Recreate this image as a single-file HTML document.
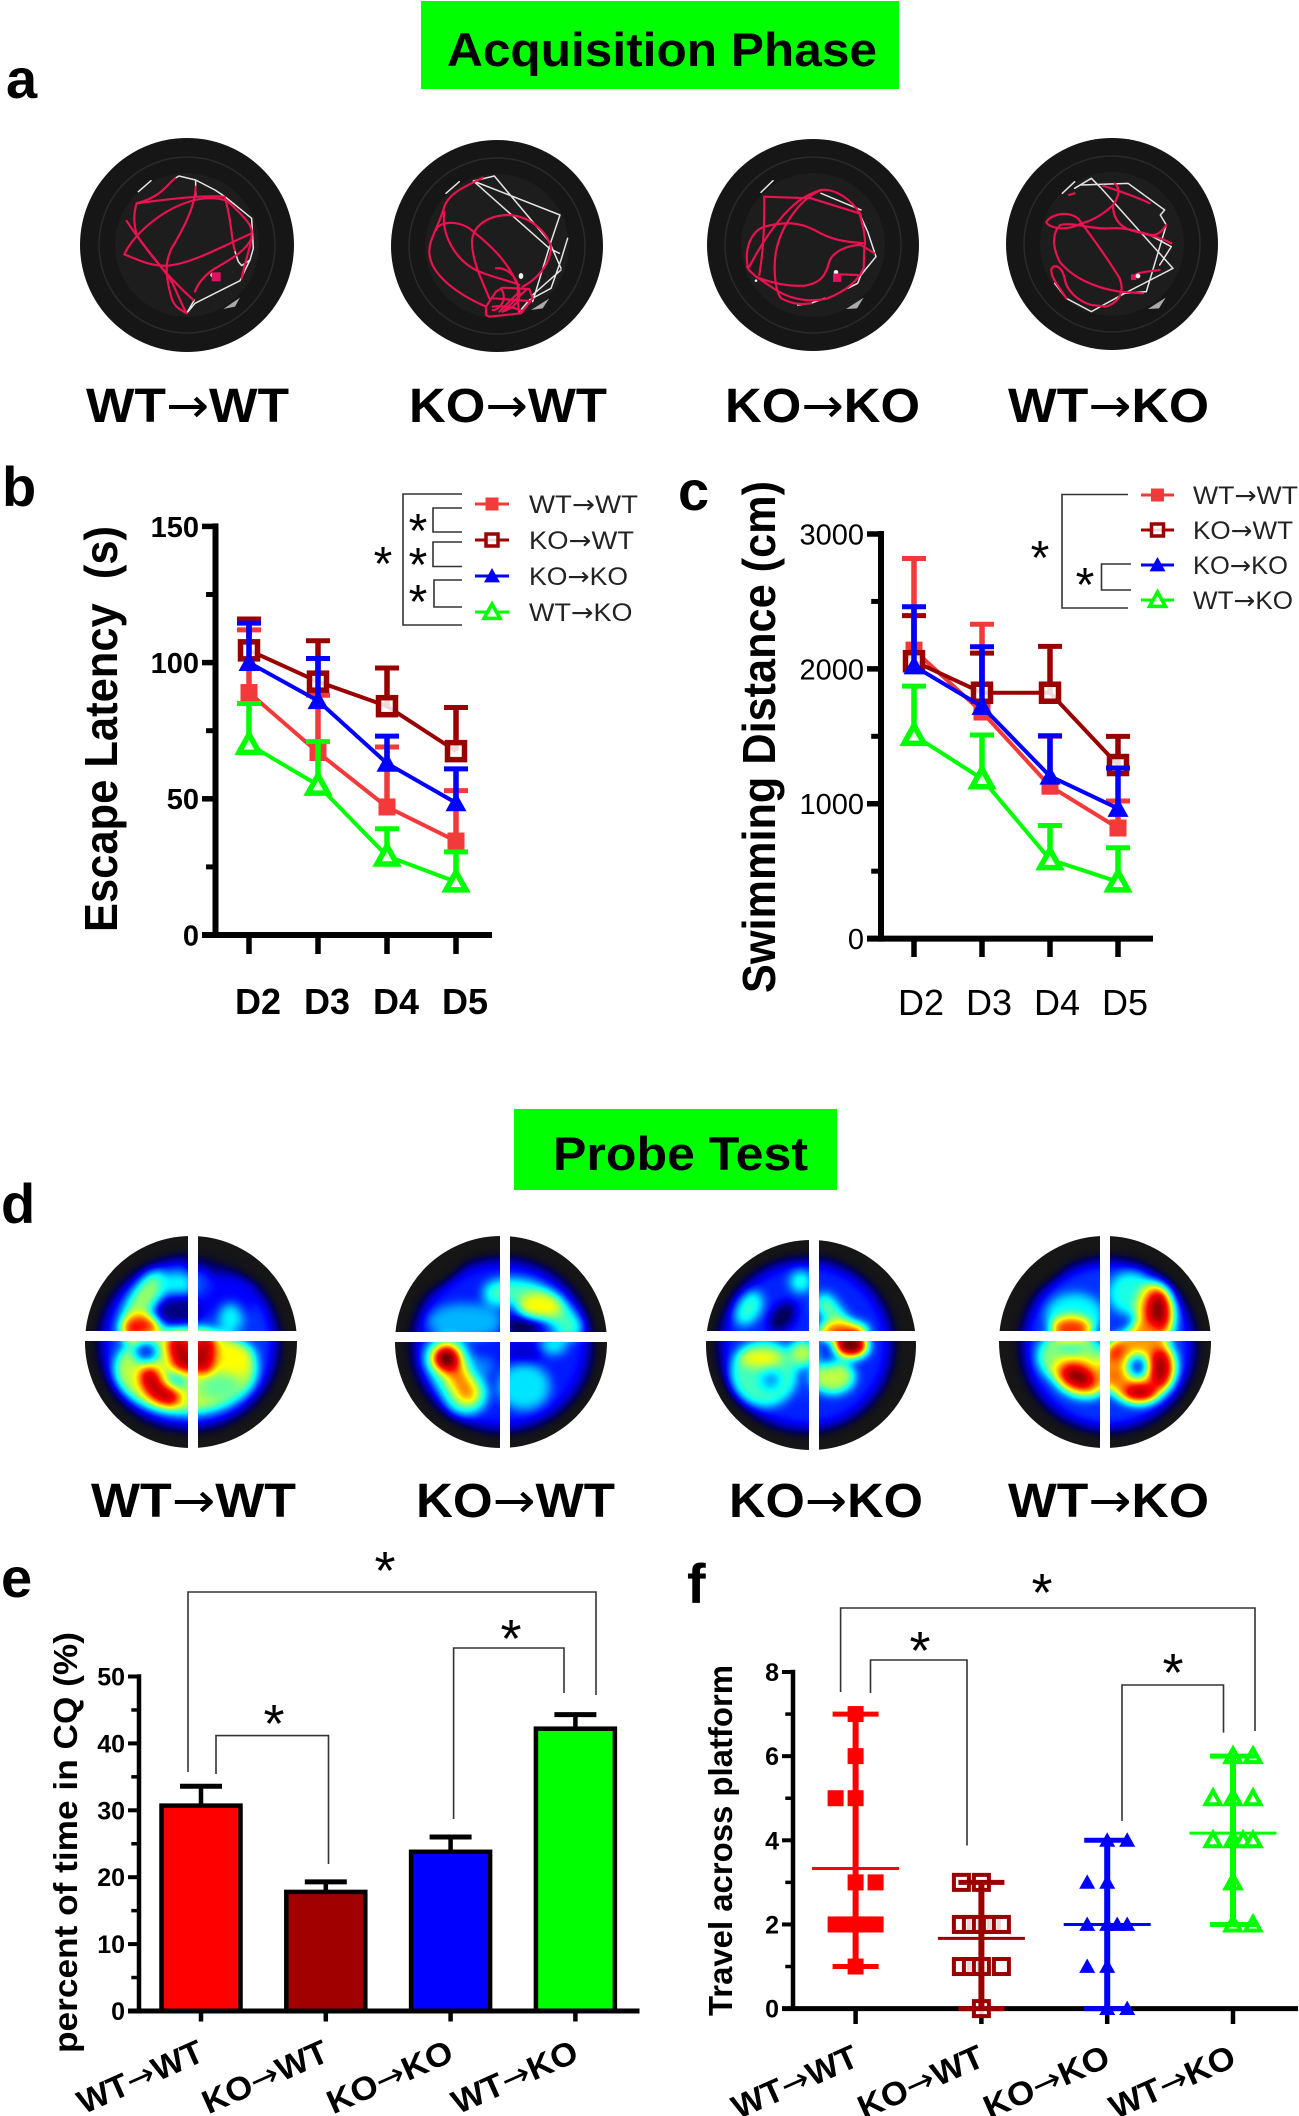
<!DOCTYPE html>
<html lang="en">
<head>
<meta charset="utf-8">
<title>Acquisition Phase and Probe Test</title>
<style>
html,body{margin:0;padding:0;background:#fff}
svg{display:block}
text{font-family:"Liberation Sans",Arial,sans-serif;fill:#000}
.br{fill:none;stroke:#333;stroke-width:1.6}
.ast{font-size:48px;text-anchor:middle}
.ast2{font-size:54px;text-anchor:middle}
.pl{font-size:56px;font-weight:bold}
.gl{font-size:48px;font-weight:bold}
.ar{font-weight:normal;font-family:"DejaVu Sans",sans-serif}
.wh{fill:none;stroke:#e4e4e4;stroke-width:4.5;stroke-linejoin:round;stroke-linecap:round}
.rd{fill:none;stroke:#ea1250;stroke-width:6.5;stroke-linejoin:round;stroke-linecap:round}
</style>
</head>
<body>
<svg xmlns="http://www.w3.org/2000/svg" width="1299" height="2116" viewBox="0 0 1299 2116">
<defs>
<filter id="jet" x="0" y="0" width="1" height="1" color-interpolation-filters="sRGB">
<feGaussianBlur stdDeviation="16"/>
<feComponentTransfer>
<feFuncR type="table" tableValues=".09 .06 0 0 0 0 0 0 0 .25 .5 .75 1 1 1 1 1 .88 .69 .5 .38"/>
<feFuncG type="table" tableValues=".09 .06 0 0 0 .25 .5 .75 1 1 1 1 1 .75 .5 .25 0 0 0 0 0"/>
<feFuncB type="table" tableValues=".09 .13 .38 .69 1 1 1 1 1 .75 .5 .25 0 0 0 0 0 0 0 0 0"/>
</feComponentTransfer>
</filter>
<clipPath id="h1c"><circle cx="191" cy="1342" r="106"/></clipPath>
<clipPath id="h2c"><circle cx="501" cy="1342" r="106"/></clipPath>
<clipPath id="h3c"><rect x="695" y="1240" width="240" height="220"/></clipPath>
<clipPath id="h3d"><circle cx="811" cy="1345" r="105"/></clipPath>
<clipPath id="h4c"><circle cx="1105" cy="1342" r="106"/></clipPath>
</defs>
<rect x="0" y="0" width="1299" height="2116" fill="#fff"/>

<!-- titles -->
<rect x="421" y="1" width="478" height="88" fill="#00ff00"/>
<text x="447" y="66" font-size="47" font-weight="bold" textLength="430" lengthAdjust="spacingAndGlyphs">Acquisition Phase</text>
<rect x="514" y="1109" width="323" height="81" fill="#00ff00"/>
<text x="553" y="1170" font-size="47" font-weight="bold" textLength="255" lengthAdjust="spacingAndGlyphs">Probe Test</text>

<!-- panel letters -->
<text class="pl" x="6" y="98">a</text>
<text class="pl" x="2" y="506">b</text>
<text class="pl" x="678" y="510">c</text>
<text class="pl" x="1" y="1223">d</text>
<text class="pl" x="1" y="1597">e</text>
<text class="pl" x="687" y="1603">f</text>

<!-- panel a : swim paths -->
<g>
<circle cx="187" cy="245" r="107" fill="#161616"/><circle cx="187" cy="245" r="88" fill="none" stroke="#2a2a2a" stroke-width="1.5"/><circle cx="187" cy="245" r="72" fill="#1d1d1d"/>
<g transform="translate(75,135) scale(.3333)">
<path d="M190,170L228,137" class="wh" stroke-width="5"/><path d="M445,522L495,488L480,515Z" fill="#aaa"/>
<path class="wh" d="M300,130L312,123L362,135L420,165L450,185L530,250L535,340L525,375L495,437L360,505L335,535L358,495M362,135L362,180M480,350L490,380L500,392L525,375"/>
<circle cx="413" cy="420" r="7" fill="#eee"/>
<path class="rd" d="M300,130C275,150 260,185 185,205C176,235 175,260 185,300C215,345 265,400 290,440C310,480 320,510 335,535"/>
<path class="rd" d="M155,258C190,310 250,400 355,495"/>
<path class="rd" d="M185,205C260,195 370,180 450,185"/>
<path class="rd" d="M148,358C175,300 260,220 360,195C400,185 440,190 460,200C500,240 535,270 530,295C530,330 520,340 500,430"/>
<path class="rd" d="M148,358C190,375 230,395 280,392C350,385 430,340 530,295"/>
<path class="rd" d="M362,155C360,220 320,290 290,340C270,380 270,420 290,490C300,520 320,525 335,535"/>
<path class="rd" d="M450,190C470,250 470,330 480,345"/>
<path class="rd" d="M360,470C370,440 400,410 430,395C470,370 510,350 530,310"/>
<rect x="410" y="412" width="27" height="27" fill="#e0115f"/>
</g></g>
<g>
<circle cx="497" cy="246" r="106" fill="#161616"/><circle cx="497" cy="246" r="88" fill="none" stroke="#2a2a2a" stroke-width="1.5"/><circle cx="497" cy="246" r="72" fill="#1d1d1d"/>
<g transform="translate(386,135) scale(.3333)">
<path d="M180,175L220,140" class="wh" stroke-width="5"/><path d="M435,525L490,490L470,520Z" fill="#aaa"/>
<path class="wh" d="M262,138L325,123L490,320L525,400M262,138L522,240L495,320L440,500M262,138L490,340L520,355M545,310L525,375L495,460L430,495L400,530M525,405L440,480"/>
<ellipse cx="405" cy="423" rx="7" ry="9" fill="#eee"/>
<path class="rd" d="M290,128C250,150 190,170 175,215C160,270 130,310 130,350C130,420 220,480 300,515"/>
<path class="rd" d="M150,285C160,260 210,255 250,280C300,320 360,370 390,440"/>
<path class="rd" d="M175,230C165,300 210,380 280,410C330,430 380,440 400,450"/>
<path class="rd" d="M258,320C260,270 310,240 370,240C440,245 490,300 495,340C490,400 440,440 410,455"/>
<path class="rd" d="M258,320C258,380 290,440 310,490"/>
<path class="rd" d="M330,400C355,395 395,420 400,470C405,500 380,520 350,530"/>
<path class="rd" d="M300,540L300,515L330,470L350,458L430,462L440,490L405,535L310,545Z"/>
<path class="rd" d="M320,490L430,498M320,515C350,510 400,520 410,530M345,460C370,500 330,530 320,525M395,450L398,530M340,530L400,470M420,465L350,530"/>
</g></g>
<g>
<circle cx="813" cy="245" r="106" fill="#161616"/><circle cx="813" cy="245" r="88" fill="none" stroke="#2a2a2a" stroke-width="1.5"/><circle cx="813" cy="245" r="72" fill="#1d1d1d"/>
<g transform="translate(701,135) scale(.3333)">
<path d="M180,172L216,137" class="wh" stroke-width="5"/><path d="M435,522L488,488L468,520Z" fill="#aaa"/>
<path class="wh" d="M475,235L500,290L520,350L525,365L480,420L470,445L440,460M370,490L330,505L290,510M360,175L480,225"/>
<circle cx="140" cy="395" r="4" fill="#eee"/><circle cx="165" cy="437" r="4" fill="#eee"/><circle cx="405" cy="412" r="7" fill="#eee"/>
<path class="rd" d="M190,185L330,190L475,235C490,280 495,320 490,340L488,400C470,440 430,470 380,490C340,500 280,500 225,465L165,425C150,410 140,405 140,395"/>
<path class="rd" d="M190,185C190,250 190,330 175,420"/>
<path class="rd" d="M360,165C400,160 450,190 480,240"/>
<path class="rd" d="M360,165C300,190 240,270 225,350C215,410 225,470 240,490C270,505 290,510 330,505"/>
<path class="rd" d="M140,395C130,340 150,290 190,275C250,260 290,260 340,285C390,315 430,320 490,325"/>
<path class="rd" d="M145,395C190,310 240,240 290,200C310,185 340,170 360,165"/>
<path class="rd" d="M165,425C210,445 270,455 310,452C360,445 375,420 385,380C395,350 440,330 480,330L520,355"/>
<path class="rd" d="M412,418L470,420"/>
<rect x="396" y="416" width="25" height="25" fill="#e0115f"/>
</g></g>
<g>
<circle cx="1112" cy="244" r="106" fill="#161616"/><circle cx="1112" cy="244" r="88" fill="none" stroke="#2a2a2a" stroke-width="1.5"/><circle cx="1112" cy="244" r="72" fill="#1d1d1d"/>
<g transform="translate(1003,135) scale(.3333)">
<path d="M178,175L215,140" class="wh" stroke-width="5"/><path d="M435,522L488,488L468,520Z" fill="#aaa"/>
<path class="wh" d="M215,160L265,130L295,160L510,400L365,475L265,530L190,490L155,445"/>
<path class="wh" d="M235,150L375,145L485,225L472,240L490,270L430,470L360,475M440,300L505,335L470,390"/>
<path class="rd" d="M198,180L215,175"/>
<path class="rd" d="M300,152C340,165 400,185 440,205"/>
<path class="rd" d="M335,145C355,160 345,190 330,210C300,240 260,260 235,265C190,290 140,280 130,262C140,240 190,225 225,250C270,310 320,380 350,430C365,470 350,500 310,515L265,510C230,500 190,470 185,430C175,390 150,385 145,405C145,430 165,450 190,490"/>
<path class="rd" d="M330,210C330,250 350,280 400,290C440,300 480,310 505,325"/>
<path class="rd" d="M172,270C150,290 145,330 170,380C210,430 280,460 350,470L420,475"/>
<path class="rd" d="M172,270C210,260 270,285 320,280C380,275 430,300 450,300C465,300 480,285 490,270"/>
<path class="rd" d="M390,428C395,410 440,410 470,405"/>
<rect x="384" y="418" width="16" height="17" fill="#e0115f"/><circle cx="405" cy="423" r="7" fill="#eee"/>
</g></g>

<!-- panel a labels -->
<text class="gl" x="86" y="422" textLength="203" lengthAdjust="spacingAndGlyphs">WT<tspan class="ar">→</tspan>WT</text>
<text class="gl" x="409" y="422" textLength="198" lengthAdjust="spacingAndGlyphs">KO<tspan class="ar">→</tspan>WT</text>
<text class="gl" x="725" y="422" textLength="195" lengthAdjust="spacingAndGlyphs">KO<tspan class="ar">→</tspan>KO</text>
<text class="gl" x="1008" y="422" textLength="201" lengthAdjust="spacingAndGlyphs">WT<tspan class="ar">→</tspan>KO</text>

<!-- panel b static annotations -->
<text x="117" y="932" font-size="46" font-weight="bold" textLength="406" lengthAdjust="spacingAndGlyphs" transform="rotate(-90 117 932)">Escape Latency&#160;&#160;(s)</text>
<g>
<path class="br" d="M462,494H403V625H462M462,508H433V532H462M462,542H433V566.500H462M462,580H434V607H462"/>
<text class="ast" x="418" y="547">*</text><text class="ast" x="418" y="581">*</text><text class="ast" x="418" y="618">*</text><text class="ast" x="383" y="580">*</text>
</g>
<g id="chartB"></g>

<!-- panel c static annotations -->
<text x="775" y="993" font-size="46" font-weight="bold" textLength="512" lengthAdjust="spacingAndGlyphs" transform="rotate(-90 775 993)">Swimming Distance (cm)</text>
<g>
<path class="br" d="M1128,494.500H1062V608H1128M1131,564H1101.500V590H1131"/>
<text class="ast" x="1040" y="574">*</text><text class="ast" x="1085" y="601">*</text>
</g>
<g id="chartC"></g>

<!-- panel d : heat maps -->
<g>
<g clip-path="url(#h1c)"><g filter="url(#jet)" transform="translate(75,1230) scale(.3455,.3333)">
<rect x="-40" y="-40" width="760" height="760" fill="#000"/>
<circle cx="330" cy="340" r="275" fill="#1a1a1a"/><circle cx="330" cy="340" r="258" fill="#2b2b2b"/><circle cx="330" cy="340" r="240" fill="#3d3d3d"/>
<rect x="330" y="0" width="300" height="150" fill="#000" opacity=".45"/>
<ellipse cx="440" cy="200" rx="85" ry="70" fill="#333"/>
<path d="M235,160Q175,220 165,300" fill="none" stroke="#858585" stroke-width="70" stroke-linecap="round"/>
<ellipse cx="295" cy="160" rx="60" ry="32" fill="#666"/>
<ellipse cx="190" cy="295" rx="55" ry="40" fill="#ccc"/>
<ellipse cx="320" cy="420" rx="205" ry="130" fill="#8c8c8c"/>
<ellipse cx="205" cy="365" rx="35" ry="30" fill="#383838"/>
<ellipse cx="300" cy="245" rx="65" ry="45" fill="#1f1f1f"/>
<ellipse cx="365" cy="155" rx="25" ry="45" fill="#404040"/>
<ellipse cx="450" cy="265" rx="35" ry="45" fill="#666"/>
<ellipse cx="460" cy="385" rx="60" ry="50" fill="#999"/>
<ellipse cx="420" cy="470" rx="60" ry="40" fill="#7a7a7a"/>
<path d="M300,345L315,400M375,345L370,400" fill="none" stroke="#e6e6e6" stroke-width="62" stroke-linecap="round"/>
<path d="M215,440Q225,490 275,500" fill="none" stroke="#e6e6e6" stroke-width="55" stroke-linecap="round"/>
<ellipse cx="295" cy="450" rx="28" ry="30" fill="#666"/>
</g></g>
<rect x="188" y="1236" width="10" height="214" fill="#fff"/><rect x="83" y="1331" width="216" height="10" fill="#fff"/>
</g>
<g>
<g clip-path="url(#h2c)"><g filter="url(#jet)" transform="translate(75,1230) scale(.3455,.3333)">
<rect x="880" y="-40" width="720" height="760" fill="#000"/>
<circle cx="1235" cy="345" r="275" fill="#1a1a1a"/><circle cx="1235" cy="345" r="258" fill="#2b2b2b"/><circle cx="1235" cy="345" r="238" fill="#383838"/>
<ellipse cx="1010" cy="95" rx="140" ry="80" fill="#000" transform="rotate(-30 1010 95)"/>
<ellipse cx="1130" cy="275" rx="110" ry="55" fill="#575757"/>
<path d="M1220,190Q1340,160 1430,290" fill="none" stroke="#737373" stroke-width="75" stroke-linecap="round"/>
<ellipse cx="1345" cy="228" rx="65" ry="40" fill="#999"/>
<ellipse cx="1295" cy="290" rx="55" ry="28" fill="#141414"/>
<ellipse cx="1300" cy="370" rx="55" ry="32" fill="#2b2b2b"/>
<ellipse cx="1385" cy="345" rx="38" ry="28" fill="#666"/>
<ellipse cx="1300" cy="470" rx="75" ry="70" fill="#616161"/>
<path d="M1075,385L1130,490" fill="none" stroke="#737373" stroke-width="130" stroke-linecap="round"/>
<path d="M1080,390L1135,490" fill="none" stroke="#b3b3b3" stroke-width="60" stroke-linecap="round"/>
<ellipse cx="1075" cy="385" rx="36" ry="36" fill="#fff"/>
<ellipse cx="1180" cy="410" rx="32" ry="30" fill="#4d4d4d"/>
</g></g>
<rect x="500" y="1236" width="10" height="214" fill="#fff"/><rect x="395" y="1332" width="212" height="10" fill="#fff"/>
</g>
<g>
<g clip-path="url(#h3d)"><g clip-path="url(#h3c)"><g filter="url(#jet)" transform="translate(695,1230) scale(.3359,.3333)">
<rect x="-40" y="-40" width="760" height="760" fill="#000"/>
<circle cx="330" cy="345" r="275" fill="#1a1a1a"/><circle cx="330" cy="345" r="258" fill="#2b2b2b"/><circle cx="330" cy="345" r="238" fill="#3a3a3a"/>
<ellipse cx="260" cy="262" rx="30" ry="50" fill="#141414" transform="rotate(35 260 262)"/>
<ellipse cx="160" cy="235" rx="35" ry="55" fill="#707070" transform="rotate(30 160 235)"/>
<ellipse cx="315" cy="155" rx="32" ry="32" fill="#707070"/>
<path d="M385,220L440,290" fill="none" stroke="#7a7a7a" stroke-width="58" stroke-linecap="round"/>
<ellipse cx="440" cy="305" rx="75" ry="28" fill="#bfbfbf"/>
<ellipse cx="320" cy="370" rx="40" ry="40" fill="#8c8c8c"/>
<ellipse cx="205" cy="430" rx="100" ry="100" fill="#737373"/>
<ellipse cx="195" cy="385" rx="65" ry="27" fill="#999"/>
<ellipse cx="225" cy="450" rx="30" ry="30" fill="#525252"/>
<ellipse cx="330" cy="460" rx="30" ry="50" fill="#3d3d3d"/>
<ellipse cx="410" cy="440" rx="65" ry="50" fill="#8c8c8c"/>
<ellipse cx="395" cy="385" rx="30" ry="20" fill="#3d3d3d"/>
<ellipse cx="465" cy="348" rx="48" ry="32" fill="#fff"/>
</g></g></g>
<rect x="809" y="1239" width="10" height="214" fill="#fff"/><rect x="704" y="1331" width="214" height="10" fill="#fff"/>
</g>
<g>
<g clip-path="url(#h4c)"><g filter="url(#jet)" transform="translate(695,1230) scale(.3359,.3333)">
<rect x="860" y="-40" width="720" height="760" fill="#000"/>
<circle cx="1230" cy="345" r="275" fill="#1a1a1a"/><circle cx="1230" cy="345" r="258" fill="#2b2b2b"/><circle cx="1230" cy="345" r="238" fill="#3d3d3d"/>
<ellipse cx="1000" cy="100" rx="140" ry="70" fill="#000" transform="rotate(-30 1000 100)"/>
<ellipse cx="1300" cy="190" rx="70" ry="65" fill="#6b6b6b"/>
<ellipse cx="1130" cy="255" rx="85" ry="65" fill="#666"/>
<ellipse cx="1115" cy="380" rx="95" ry="80" fill="#808080"/>
<ellipse cx="1120" cy="295" rx="60" ry="35" fill="#c4c4c4"/>
<ellipse cx="1120" cy="358" rx="34" ry="18" fill="#6b6b6b"/>
<ellipse cx="1145" cy="440" rx="85" ry="58" fill="#a6a6a6" transform="rotate(20 1145 440)"/>
<ellipse cx="1140" cy="440" rx="50" ry="30" fill="#f2f2f2" transform="rotate(22 1140 440)"/>
<ellipse cx="1370" cy="255" rx="58" ry="98" fill="#a6a6a6"/>
<ellipse cx="1378" cy="245" rx="32" ry="60" fill="#f2f2f2"/>
<ellipse cx="1340" cy="300" rx="45" ry="25" fill="#b3b3b3"/>
<ellipse cx="1320" cy="410" rx="112" ry="108" fill="#adadad"/>
<ellipse cx="1318" cy="410" rx="32" ry="36" fill="#3d3d3d"/>
<ellipse cx="1385" cy="415" rx="30" ry="55" fill="#ebebeb"/>
<ellipse cx="1325" cy="490" rx="48" ry="26" fill="#ebebeb"/>
<ellipse cx="1250" cy="365" rx="28" ry="26" fill="#ccc"/>
<ellipse cx="1250" cy="440" rx="25" ry="25" fill="#b8b8b8"/>
</g></g>
<rect x="1100" y="1236" width="10" height="214" fill="#fff"/><rect x="997" y="1331" width="215" height="10" fill="#fff"/>
</g>

<!-- panel d labels -->
<text class="gl" x="91" y="1517" textLength="205" lengthAdjust="spacingAndGlyphs">WT<tspan class="ar">→</tspan>WT</text>
<text class="gl" x="416" y="1517" textLength="199" lengthAdjust="spacingAndGlyphs">KO<tspan class="ar">→</tspan>WT</text>
<text class="gl" x="729" y="1517" textLength="194" lengthAdjust="spacingAndGlyphs">KO<tspan class="ar">→</tspan>KO</text>
<text class="gl" x="1008" y="1517" textLength="201" lengthAdjust="spacingAndGlyphs">WT<tspan class="ar">→</tspan>KO</text>

<!-- panel e static -->
<text x="77" y="2053" font-size="33" font-weight="bold" textLength="421" lengthAdjust="spacingAndGlyphs" transform="rotate(-90 77 2053)">percent of time in CQ (%)</text>
<g id="chartE"></g>
<g>
<path class="br" d="M188,1772V1592H596V1695M216,1774V1735.600H328.500V1864M453.600,1819V1648H564V1693"/>
<text class="ast2" x="385" y="1589">*</text><text class="ast2" x="274" y="1742">*</text><text class="ast2" x="511" y="1657">*</text>
</g>

<!-- panel f static -->
<text x="732" y="2016" font-size="33" font-weight="bold" textLength="351" lengthAdjust="spacingAndGlyphs" transform="rotate(-90 732 2016)">Travel across platform</text>
<g id="chartF"></g>
<g>
<path class="br" d="M840.600,1692V1608H1255V1731M870.500,1693V1660H967V1845.500M1122,1821V1685H1223.500V1732.600"/>
<text class="ast2" x="1042" y="1611">*</text><text class="ast2" x="920" y="1669">*</text><text class="ast2" x="1173" y="1691">*</text>
</g>

<script>
// ---------- shared categories ----------
const days = ['D2', 'D3', 'D4', 'D5'];
const groups = ['WT→WT', 'KO→WT', 'KO→KO', 'WT→KO'];
const groupColors = ['#f23a3a', '#990000', '#0000ff', '#00ff00'];
const groupMarkers = ['square', 'hollowSquare', 'triangle', 'hollowTriangle'];

// ---------- panel b : escape latency (s) ----------
const latencyTicks = [0, 50, 100, 150];
const latencyMinorTicks = [25, 75, 125];
const latencyWtWt = [89, 67, 47, 34.5];
const latencyWtWtUpper = [112, 88, 69, 53];
const latencyKoWt = [104.5, 93, 84, 67.5];
const latencyKoWtUpper = [116, 108, 98, 83.5];
const latencyKoKo = [100, 86, 63, 48.5];
const latencyKoKoUpper = [114.5, 101.5, 73, 61];
const latencyWtKo = [70, 55, 29, 19.5];
const latencyWtKoUpper = [85, 71, 39, 30.5];

// ---------- panel c : swimming distance (cm) ----------
const distanceTicks = [0, 1000, 2000, 3000];
const distanceMinorTicks = [500, 1500, 2500];
const distanceWtWt = [2139, 1680, 1130, 820];
const distanceWtWtUpper = [2818, 2331, 1500, 1020];
const distanceKoWt = [2057, 1823, 1823, 1287];
const distanceKoWtUpper = [2395, 2117, 2167, 1499];
const distanceKoKo = [2021, 1721, 1204, 965];
const distanceKoKoUpper = [2461, 2164, 1504, 1265];
const distanceWtKo = [1507, 1185, 586, 421];
const distanceWtKoUpper = [1872, 1510, 839, 674];

// ---------- panel e : percent of time in CQ ----------
const cqTicks = [0, 10, 20, 30, 40, 50];
const cqMinorTicks = [5, 15, 25, 35, 45];
const cqMeans = [30.7, 17.8, 23.8, 42.2];
const cqUpper = [33.6, 19.3, 26, 44.3];

// ---------- panel f : travels across platform ----------
const travelTicks = [0, 2, 4, 6, 8];
const travelMinorTicks = [1, 3, 5, 7];
const travelWtWt = [7, 6, 5, 5, 3, 3, 2, 2, 2, 2, 2, 1];
const travelKoWt = [3, 3, 2, 2, 2, 2, 2, 1, 1, 1, 1, 0];
const travelKoKo = [4, 4, 3, 3, 2, 2, 2, 2, 1, 1, 0, 0];
const travelWtKo = [6, 6, 5, 5, 5, 4, 4, 4, 4, 3, 2, 2];
const swarmWtWt = [0, 0, -1, 0, 0, 1, -1, -0.5, 0, 0.5, 1, 0];
const swarmKoWt = [-1, 0, -1, -0.5, 0, 0.5, 1, -1, -0.5, 0, 1, 0];
const swarmKoKo = [0, 1, -1, 0, -1, 0, 0.5, 1, -1, 0, 0, 1];
const swarmWtKo = [0, 1, -1, 0, 1, -1, 0, 0.5, 1, 0, 0, 1];
const travelMeans = [3.33, 1.67, 2, 4.17];
const travelLow = [1, 0, 0, 2];
const travelHigh = [7, 3, 4, 6];

const NS = 'http://www.w3.org/2000/svg';
function mk(parent, tag, attrs, txt) {
  const el = document.createElementNS(NS, tag);
  for (const k in attrs) el.setAttribute(k, attrs[k]);
  if (txt !== undefined) el.textContent = txt;
  parent.appendChild(el);
  return el;
}
function line(parent, x1, y1, x2, y2, color, w, cap) {
  return mk(parent, 'line', {x1: x1, y1: y1, x2: x2, y2: y2, stroke: color, 'stroke-width': w, 'stroke-linecap': cap || 'butt'});
}
function marker(parent, kind, x, y, s, color, sw) {
  const h = s / 2;
  if (kind === 'square') return mk(parent, 'rect', {x: x - h, y: y - h, width: s, height: s, fill: color});
  if (kind === 'hollowSquare') return mk(parent, 'rect', {x: x - h, y: y - h, width: s, height: s, fill: '#fff', 'fill-opacity': 0.85, stroke: color, 'stroke-width': sw});
  const pts = (x - h) + ',' + (y + h * 0.8) + ' ' + (x + h) + ',' + (y + h * 0.8) + ' ' + x + ',' + (y - h * 1.0);
  if (kind === 'triangle') return mk(parent, 'polygon', {points: pts, fill: color});
  return mk(parent, 'polygon', {points: pts, fill: '#fff', 'fill-opacity': 0.85, stroke: color, 'stroke-width': sw, 'stroke-linejoin': 'miter'});
}
function yAxis(parent, yScale, xAxisPos, major, minor, tickLeft, labelX, fontSize, weight, axisW) {
  const top = yScale(major[major.length - 1]);
  const bottom = yScale(major[0]);
  const axis = line(parent, xAxisPos, top - axisW / 2, xAxisPos, bottom + axisW / 2, '#000', axisW);
  
  
  major.forEach(function (v) {
    const t = line(parent, tickLeft, yScale(v), xAxisPos, yScale(v), '#000', axisW - 0.5);
    
    
    const lab = mk(parent, 'text', {x: labelX, y: yScale(v) + fontSize * 0.36, 'text-anchor': 'end', 'font-size': fontSize, 'font-weight': weight}, String(v));
    
    
  });
  minor.forEach(function (v) {
    const t = line(parent, xAxisPos - (xAxisPos - tickLeft) * 0.7, yScale(v), xAxisPos, yScale(v), '#000', axisW - 1);
    
    
  });
}
function arrowLabel(t, name) {
  const parts = name.split('→');
  mk(t, 'tspan', {}, parts[0]);
  mk(t, 'tspan', {class: 'ar'}, '→');
  mk(t, 'tspan', {}, parts[1]);
}

function lineChart(root, cfg) {
  const yScale = cfg.y;
  const xScale = cfg.x;
  yAxis(root, yScale, cfg.axisX, cfg.ticks, cfg.minor, cfg.tickLeft, cfg.labelX, cfg.fontSize, cfg.weight, 6);
  const xa = line(root, cfg.tickLeft, yScale(0), cfg.axisRight, yScale(0), '#000', 6);
  
  
  days.forEach(function (d, i) {
    const t = line(root, xScale(i), yScale(0), xScale(i), cfg.tickBottom, '#000', 5.5);
    
    
    const lab = mk(root, 'text', {x: xScale(i) + cfg.dayDx, y: cfg.dayY, 'text-anchor': 'middle', 'font-size': cfg.dayFont, 'font-weight': cfg.weight}, d);
    
    
  });
  cfg.series.forEach(function (s, k) {
    const col = groupColors[k];
    const g = mk(root, 'g', {});
    
    
    const pl = mk(g, 'polyline', {points: s.mean.map(function (v, i) { return xScale(i) + ',' + yScale(v); }).join(' '), fill: 'none', stroke: col, 'stroke-width': 4});
    
    
    s.mean.forEach(function (v, i) {
      const eb = line(g, xScale(i), yScale(v), xScale(i), yScale(s.upper[i]), col, 5.5);
      
      
      const cap = line(g, xScale(i) - 12, yScale(s.upper[i]), xScale(i) + 12, yScale(s.upper[i]), col, 5);
      
      
      const m = marker(g, groupMarkers[k], xScale(i), yScale(v), cfg.markerSizes[k], col, 5.5);
      
      
    });
    const ly = cfg.legendY[k];
    const ll = line(root, cfg.legendLine[0], ly, cfg.legendLine[1], ly, col, 3);
    
    
    const lm = marker(root, groupMarkers[k], (cfg.legendLine[0] + cfg.legendLine[1]) / 2, ly, cfg.legendMarker[k], col, 3.5);
    
    
    const lt = mk(root, 'text', {x: cfg.legendTextX, y: ly + cfg.legendDy, 'font-size': 25, textLength: cfg.legendW[k], lengthAdjust: 'spacingAndGlyphs', style: 'fill:#222'});
    
    
    arrowLabel(lt, groups[k]);
  });
}

const latencyY = function (v) { return 935 - v * (935 - 526.4) / 150; };
const dayXB = function (i) { return 249 + i * 69; };
lineChart(document.getElementById('chartB'), {
  y: latencyY, x: dayXB, axisX: 215.5, axisRight: 492, tickLeft: 202, tickBottom: 954, labelX: 199,
  ticks: latencyTicks, minor: latencyMinorTicks, fontSize: 29, weight: 'bold', dayDx: 9, dayY: 1014, dayFont: 36,
  series: [
    {mean: latencyWtWt, upper: latencyWtWtUpper},
    {mean: latencyKoWt, upper: latencyKoWtUpper},
    {mean: latencyKoKo, upper: latencyKoKoUpper},
    {mean: latencyWtKo, upper: latencyWtKoUpper}
  ],
  markerSizes: [17, 17, 21, 20], legendMarker: [13, 12, 16, 16],
  legendY: [504, 540, 576, 612], legendLine: [475, 509], legendTextX: 529, legendDy: 9, legendW: [109, 105, 99, 103.5]
});

const distanceY = function (v) { return 938.6 - v * (938.6 - 534) / 3000; };
const dayXC = function (i) { return 914 + i * 68; };
lineChart(document.getElementById('chartC'), {
  y: distanceY, x: dayXC, axisX: 881, axisRight: 1153, tickLeft: 867, tickBottom: 957, labelX: 864,
  ticks: distanceTicks, minor: distanceMinorTicks, fontSize: 29, weight: 'normal', dayDx: 7, dayY: 1015, dayFont: 36,
  series: [
    {mean: distanceWtWt, upper: distanceWtWtUpper},
    {mean: distanceKoWt, upper: distanceKoWtUpper},
    {mean: distanceKoKo, upper: distanceKoKoUpper},
    {mean: distanceWtKo, upper: distanceWtKoUpper}
  ],
  markerSizes: [17, 17, 21, 20], legendMarker: [13, 12, 16, 16],
  legendY: [495, 530, 565, 600], legendLine: [1141, 1174], legendTextX: 1193, legendDy: 9, legendW: [105, 100, 95, 100]
});

function rotatedLabels(root, xs, y, names) {
  names.forEach(function (n, i) {
    const t = mk(root, 'text', {x: 0, y: 0, 'text-anchor': 'end', 'font-size': 33, 'font-weight': 'bold', textLength: 134, lengthAdjust: 'spacingAndGlyphs', transform: 'translate(' + xs(i) + ',' + y + ') rotate(-24)'});
    
    
    arrowLabel(t, n);
  });
}

// panel e
(function () {
  const root = document.getElementById('chartE');
  const yE = function (v) { return 2011 - v * (2011 - 1676.5) / 50; };
  const xE = function (i) { return 201 + i * 124.8; };
  const barHalf = 39.5;
  yAxis(root, yE, 139, cqTicks, cqMinorTicks, 128, 125, 25, 'bold', 4.5);
  cqMeans.forEach(function (v, i) {
    const cap = line(root, xE(i) - 21, yE(cqUpper[i]), xE(i) + 21, yE(cqUpper[i]), '#000', 5);
    
    
    const eb = line(root, xE(i), yE(v), xE(i), yE(cqUpper[i]), '#000', 4.5);
    
    
    const bar = mk(root, 'rect', {x: xE(i) - barHalf, y: yE(v), width: barHalf * 2, height: yE(0) - yE(v), fill: i === 1 ? '#a00000' : (i === 0 ? '#ff0000' : groupColors[i]), stroke: '#000', 'stroke-width': 4.5});
    
    
    const t = line(root, xE(i), yE(0), xE(i), 2021.5, '#000', 4.5);
    
    
  });
  const xa = line(root, 128, yE(0), 639.5, yE(0), '#000', 5);
  
  
  rotatedLabels(root, function (i) { return xE(i) + 5; }, 2060, groups);
})();

// panel f
(function () {
  const root = document.getElementById('chartF');
  const yF = function (v) { return 2008.6 - v * (2008.6 - 1672) / 8; };
  const xF = function (i) { return 855.6 + i * 125.8; };
  const step = 20;
  const colors = ['#ff0000', '#990000', '#0000ff', '#00ff00'];
  const travels = [travelWtWt, travelKoWt, travelKoKo, travelWtKo];
  const slots = [swarmWtWt, swarmKoWt, swarmKoKo, swarmWtKo];
  yAxis(root, yF, 793, travelTicks, travelMinorTicks, 782, 779, 25, 'bold', 4.5);
  const xa = line(root, 782, yF(0), 1298, yF(0), '#000', 5);
  
  
  travels.forEach(function (vals, i) {
    const t = line(root, xF(i), yF(0), xF(i), 2024, '#000', 4.5);
    
    
    vals.forEach(function (v, j) {
      const m = marker(root, groupMarkers[i], xF(i) + slots[i][j] * step, yF(v), i % 2 === 0 ? 16 : 15, colors[i], 4);
      
      
    });
    const rng = line(root, xF(i), yF(travelLow[i]), xF(i), yF(travelHigh[i]), colors[i], 6);
    
    
    const capLo = line(root, xF(i) - 23, yF(travelLow[i]), xF(i) + 23, yF(travelLow[i]), colors[i], 5);
    
    
    const capHi = line(root, xF(i) - 23, yF(travelHigh[i]), xF(i) + 23, yF(travelHigh[i]), colors[i], 5);
    
    
    const mean = line(root, xF(i) - 43.5, yF(travelMeans[i]), xF(i) + 43.5, yF(travelMeans[i]), colors[i], 3);
    
    
  });
  rotatedLabels(root, function (i) { return xF(i) + 5; }, 2065, groups);
})();
</script>
</svg>
</body>
</html>
